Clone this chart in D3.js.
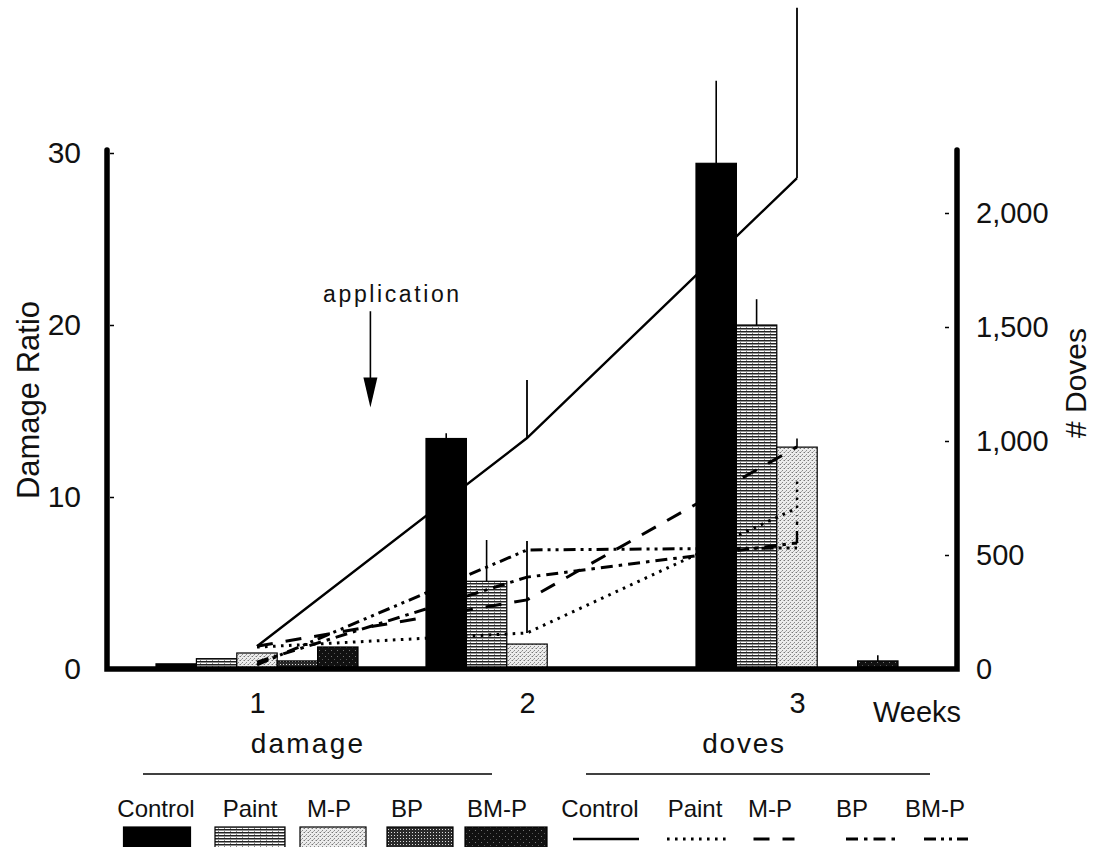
<!DOCTYPE html>
<html><head><meta charset="utf-8">
<script src="https://cdn.jsdelivr.net/npm/d3@7"></script>
<style>
body{margin:0;background:#fff}
text{font-family:"Liberation Sans",Arial,Helvetica,sans-serif;fill:#111}
</style>
</head><body>
<svg id="c" width="1097" height="847"></svg>
<script>
// ---------- data ----------
const weeks = [1, 2, 3];
const weekLabels = ["1", "2", "3"];
const series = ["Control", "Paint", "M-P", "BP", "BM-P"];
const leftTicks = [0, 10, 20, 30];
const rightTicks = [0, 500, 1000, 1500, 2000];

// damage ratio (bars)
const damageControl = [0.3, 13.4, 29.4];
const damagePaint   = [0.6, 5.1, 20.0];
const damageMP      = [0.93, 1.45, 12.9];
const damageBP      = [0.47, 0, 0];
const damageBMP     = [1.28, 0, 0.47];
// upper end of error bars (null = none)
const damageErrControl = [null, 13.7, 34.2];
const damageErrPaint   = [null, 7.5, 21.5];
const damageErrMP      = [null, null, 13.4];
const damageErrBP      = [null, null, null];
const damageErrBMP     = [null, null, 0.8];

// number of doves (lines)
const dovesControl = [100, 1013, 2153];
const dovesPaint   = [96, 158, 706];
const dovesMP      = [100, 303, 974];
const dovesBP      = [30, 403, 553];
const dovesBMP     = [18, 522, 531];
const dovesErrControl = [null, 1268, 2900];
const dovesErrPaint   = [null, 561, 838];
const dovesErrMP      = [null, null, null];
const dovesErrBP      = [null, null, 675];
const dovesErrBMP     = [null, null, null];

const applicationWeek = 1.42;
const applicationFrom = 20.8, applicationTo = 15.2; // damage-ratio units

// ---------- setup ----------
const damageSets = [damageControl, damagePaint, damageMP, damageBP, damageBMP];
const damageErrs = [damageErrControl, damageErrPaint, damageErrMP, damageErrBP, damageErrBMP];
const dovesSets  = [dovesControl, dovesPaint, dovesMP, dovesBP, dovesBMP];
const dovesErrs  = [dovesErrControl, dovesErrPaint, dovesErrMP, dovesErrBP, dovesErrBMP];
const fills = ["#000", "url(#pPaint)", "url(#pMP)", "url(#pBP)", "url(#pBMP)"];
const dashes = [null, "2.6,5.4", "16,13", "12,6,3.5,6", "12,5,3,5,3,5"];

const svg = d3.select("#c");
const X0 = 107, X1 = 957, Y0 = 669, YTOP = 150;
const x = d3.scaleLinear().domain([1, 3]).range([257, 797]);
const yL = d3.scaleLinear().domain([0, 30]).range([Y0, 153]);
const yR = d3.scaleLinear().domain([0, 2000]).range([Y0, 213]);
const band = d3.scaleBand().domain(series).range([-101, 101]);

// ---------- patterns ----------
const defs = svg.append("defs");
function pat(id, w, h, bg, dots) {
  const p = defs.append("pattern").attr("id", id).attr("patternUnits", "userSpaceOnUse")
    .attr("width", w).attr("height", h);
  p.append("rect").attr("width", w).attr("height", h).attr("fill", bg);
  dots.forEach(d => p.append("rect").attr("x", d[0]).attr("y", d[1]).attr("width", d[2]).attr("height", d[3]).attr("fill", d[4]));
}
pat("pPaint", 6, 3, "#fff", [[0, 1, 6, 1.5, "#222"], [2, 0, 1, 1, "#888"]]);
pat("pMP", 4, 4, "#ececec", [[0, 0, 1, 1, "#777"], [2, 2, 1, 1, "#888"], [3, 0, 1, 1, "#bbb"], [1, 3, 1, 1, "#aaa"]]);
pat("pBP", 3, 3, "#2a2a2a", [[1, 1, 1, 1, "#ddd"]]);
pat("pBMP", 6, 6, "#111", [[1, 2, 1, 1, "#777"], [4, 5, 1, 1, "#555"]]);

// ---------- bars ----------
const gBars = svg.append("g");
series.forEach((s, si) => {
  damageSets[si].forEach((v, wi) => {
    if (!v) return;
    gBars.append("rect")
      .attr("x", x(weeks[wi]) + band(s))
      .attr("width", band.bandwidth())
      .attr("y", yL(v))
      .attr("height", yL(0) - yL(v))
      .attr("fill", fills[si])
      .attr("stroke", "#000").attr("stroke-width", 1.2);
    const e = damageErrs[si][wi];
    if (e != null) {
      const cx = x(weeks[wi]) + band(s) + band.bandwidth() / 2;
      gBars.append("line").attr("x1", cx).attr("x2", cx)
        .attr("y1", yL(v)).attr("y2", yL(e))
        .attr("stroke", "#000").attr("stroke-width", 1.6);
    }
  });
});

// ---------- lines ----------
const line = d3.line().x((d, i) => x(weeks[i])).y(d => yR(d));
series.forEach((s, si) => {
  svg.append("path").datum(dovesSets[si])
    .attr("d", line).attr("fill", "none")
    .attr("stroke", "#000").attr("stroke-width", si === 0 ? 2.4 : 3)
    .attr("stroke-dasharray", dashes[si]);
  dovesErrs[si].forEach((e, wi) => {
    if (e == null) return;
    const solid = si === 0 || wi === 1;
    svg.append("line").attr("x1", x(weeks[wi])).attr("x2", x(weeks[wi]))
      .attr("y1", yR(dovesSets[si][wi])).attr("y2", yR(e))
      .attr("stroke", "#000").attr("stroke-width", solid ? 1.8 : 2.4)
      .attr("stroke-dasharray", solid ? null : dashes[si]);
  });
});

// ---------- axes ----------
const axL = d3.axisLeft(yL).tickValues(leftTicks).tickSizeInner(-7).tickSizeOuter(0).tickPadding(26);
const gL = svg.append("g").attr("transform", `translate(${X0},0)`).call(axL);
gL.select(".domain").remove();
gL.selectAll(".tick line").attr("stroke", "#000").attr("stroke-width", 1.5).attr("x1", 3);
gL.selectAll(".tick text").attr("font-size", 30).attr("fill", "#111");

const axR = d3.axisRight(yR).tickValues(rightTicks).tickFormat(d3.format(",")).tickSizeInner(-12).tickSizeOuter(0).tickPadding(19);
const gR = svg.append("g").attr("transform", `translate(${X1},0)`).call(axR);
gR.select(".domain").remove();
gR.selectAll(".tick line").attr("stroke", "#000").attr("stroke-width", 1.5).attr("x1", -8);
gR.selectAll(".tick text").attr("font-size", 29).attr("fill", "#111");

const axB = d3.axisBottom(x).tickValues(weeks).tickFormat((d, i) => weekLabels[i]).tickSize(0).tickPadding(23);
const gB = svg.append("g").attr("transform", `translate(0,${Y0})`).call(axB);
gB.select(".domain").remove();
gB.selectAll(".tick text").attr("font-size", 29).attr("fill", "#111");

// thick axis lines
svg.append("path")
  .attr("d", `M${X0},${YTOP}V${Y0}H${X1}V${YTOP}`)
  .attr("fill", "none").attr("stroke", "#000").attr("stroke-width", 5.5)
  .attr("stroke-linecap", "round").attr("stroke-linejoin", "miter");

// axis titles
svg.append("text").attr("transform", `translate(39,400) rotate(-90)`)
  .attr("text-anchor", "middle").attr("font-size", 31).text("Damage Ratio");
svg.append("text").attr("transform", `translate(1086,383) rotate(-90)`)
  .attr("text-anchor", "middle").attr("font-size", 30).text("# Doves");
svg.append("text").attr("x", 917).attr("y", 722).attr("text-anchor", "middle")
  .attr("font-size", 29).text("Weeks");

// application annotation
const ax = x(applicationWeek);
svg.append("text").attr("x", ax + 22).attr("y", 302).attr("text-anchor", "middle")
  .attr("font-size", 23).attr("letter-spacing", 2.6).text("application");
svg.append("line").attr("x1", ax).attr("x2", ax).attr("y1", yL(applicationFrom)).attr("y2", yL(applicationTo) - 20)
  .attr("stroke", "#000").attr("stroke-width", 1.6);
svg.append("path")
  .attr("d", `M${ax - 7},${yL(applicationTo) - 30}L${ax + 7},${yL(applicationTo) - 30}L${ax},${yL(applicationTo)}Z`)
  .attr("fill", "#000");

// ---------- legend ----------
const legDamageCenters = [157, 250, 333, 420, 506];
const legDamageLabelX = [156, 250, 329, 407, 497];
const legDamageW = [67, 70, 66, 66, 82];
const legDovesCenters = [606, 697, 774, 872, 946];
const legDovesLabelX = [600, 695, 770, 852, 935];
const legDovesW = [66, 60, 41, 52, 44];
const LEG_TEXT_Y = 817, LEG_SW_Y = 827;

svg.append("text").attr("x", 308).attr("y", 753).attr("text-anchor", "middle")
  .attr("font-size", 28).attr("letter-spacing", 2.2).text("damage");
svg.append("text").attr("x", 744).attr("y", 753).attr("text-anchor", "middle")
  .attr("font-size", 28).attr("letter-spacing", 1.8).text("doves");
svg.append("line").attr("x1", 143).attr("x2", 492).attr("y1", 774).attr("y2", 774).attr("stroke", "#000").attr("stroke-width", 1.3);
svg.append("line").attr("x1", 586).attr("x2", 930).attr("y1", 774).attr("y2", 774).attr("stroke", "#000").attr("stroke-width", 1.3);

series.forEach((s, si) => {
  svg.append("text").attr("x", legDamageLabelX[si]).attr("y", LEG_TEXT_Y).attr("text-anchor", "middle")
    .attr("font-size", 24).text(s);
  svg.append("rect").attr("x", legDamageCenters[si] - legDamageW[si] / 2).attr("y", LEG_SW_Y)
    .attr("width", legDamageW[si]).attr("height", 25)
    .attr("fill", fills[si]).attr("stroke", "#000").attr("stroke-width", 1.2);
  svg.append("text").attr("x", legDovesLabelX[si]).attr("y", LEG_TEXT_Y).attr("text-anchor", "middle")
    .attr("font-size", 24).text(s);
  svg.append("line").attr("x1", legDovesCenters[si] - legDovesW[si] / 2).attr("x2", legDovesCenters[si] + legDovesW[si] / 2)
    .attr("y1", 839).attr("y2", 839)
    .attr("stroke", "#000").attr("stroke-width", si === 0 ? 2.4 : 3)
    .attr("stroke-dasharray", dashes[si]);
});
</script>
</body></html>
